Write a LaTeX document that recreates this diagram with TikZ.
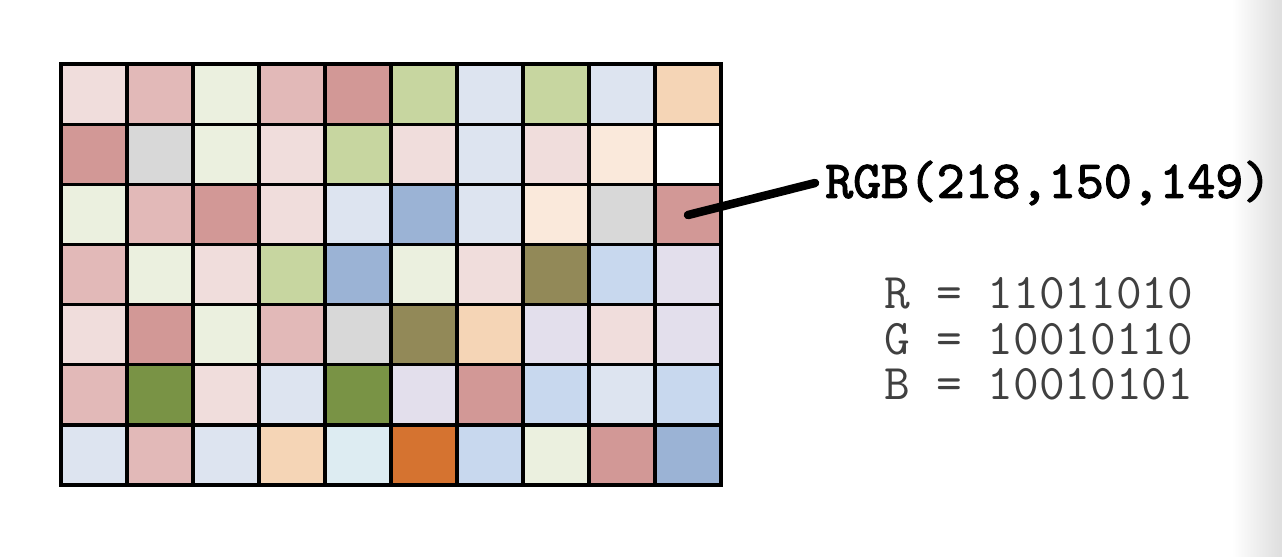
\documentclass[tikz,border=0pt]{standalone}
\usepackage{fontspec}
\usepackage{xcolor}
\newfontfamily\heavymono[FakeBold=2.2]{lmmono10-regular.otf}
\definecolor{pkA}{RGB}{240,221,220}
\definecolor{pkB}{RGB}{226,185,184}
\definecolor{pkC}{RGB}{210,152,150}
\definecolor{grA}{RGB}{235,240,223}
\definecolor{grB}{RGB}{199,214,160}
\definecolor{grC}{RGB}{121,147,69}
\definecolor{blA}{RGB}{221,228,240}
\definecolor{blB}{RGB}{200,216,238}
\definecolor{blC}{RGB}{155,179,213}
\definecolor{aqA}{RGB}{221,236,242}
\definecolor{orA}{RGB}{245,213,182}
\definecolor{orB}{RGB}{250,233,219}
\definecolor{orC}{RGB}{213,115,48}
\definecolor{gyA}{RGB}{216,216,216}
\definecolor{olA}{RGB}{146,137,88}
\definecolor{lvA}{RGB}{227,223,236}
\usetikzlibrary{calc}
\begin{document}
\begin{tikzpicture}[x=.02cm,y=-.02cm,
  cell/.style={draw=black,line width=.065cm},
  pointer/.style={line width=.17cm,line cap=round},
  rgbtxt/.style={font=\heavymono\fontsize{30.2}{32}\selectfont},
  bits/.style={align=left,text=black!75,inner sep=0pt,
    font=\ttfamily\fontsize{28.4}{25.9}\selectfont}]
\useasboundingbox (0,0) rectangle (1282,556);
\shade[left color=white,right color=black!13,draw=none] (1232,0) rectangle (1282,556);
% pixel grid, 10 x 7
\foreach \row [count=\r] in {
  {pkA,pkB,grA,pkB,pkC,grB,blA,grB,blA,orA},
  {pkC,gyA,grA,pkA,grB,pkA,blA,pkA,orB,white},
  {grA,pkB,pkC,pkA,blA,blC,blA,orB,gyA,pkC},
  {pkB,grA,pkA,grB,blC,grA,pkA,olA,blB,lvA},
  {pkA,pkC,grA,pkB,gyA,olA,orA,lvA,pkA,lvA},
  {pkB,grC,pkA,blA,grC,lvA,pkC,blB,blA,blB},
  {blA,pkB,blA,orA,aqA,orC,blB,grA,pkC,blC}}{
 \foreach \c [count=\k] in \row{
  \draw[cell,fill=\c] (61+66*\k-66,64+60.15*\r-60.15)
    rectangle (61+66*\k,64+60.15*\r);
 }
}
\coordinate (pick) at (688,215);
\node[rgbtxt,anchor=west,inner xsep=.2cm,inner ysep=0pt] (rgb) at (815,183)
  {RGB(218,150,149)};
\draw[pointer] (pick) -- (rgb.west);
\node[bits] (binary) at (1039,339)
  {R = 11011010\\G = 10010110\\B = 10010101};
\end{tikzpicture}
\end{document}
